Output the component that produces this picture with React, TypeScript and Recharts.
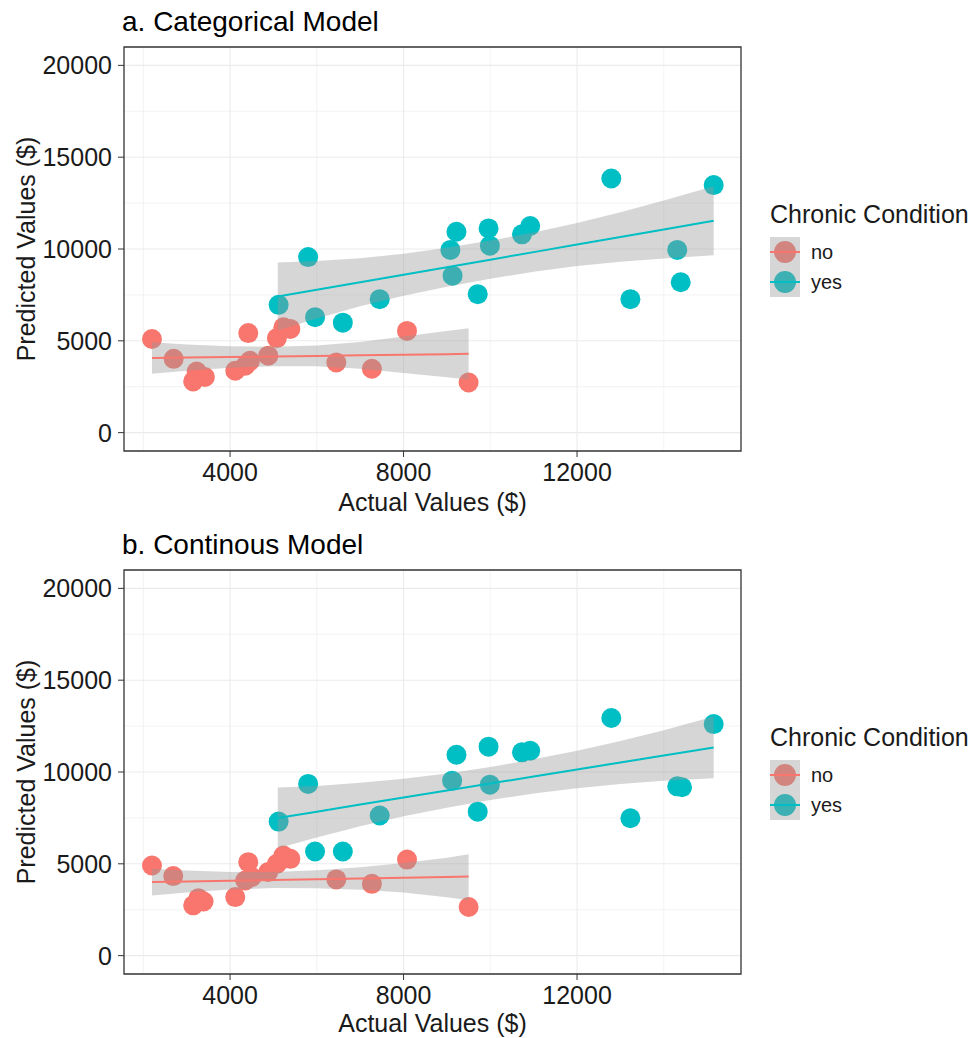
import React from 'react';
import {
  ComposedChart,
  Scatter,
  Line,
  Area,
  XAxis,
  YAxis,
  CartesianGrid,
  ReferenceArea,
  Legend,
} from 'recharts';

const FONT = '"Liberation Sans", Arial, Helvetica, sans-serif';
const RED = '#F8766D';
const TEAL = '#00BFC4';
// point colour as seen under the grey ribbon (used for the legend keys)
const RED_KEY = '#D2847F';
const TEAL_KEY = '#3DB0B3';

const groups = ['no', 'yes'];

const xTicks = [4000, 8000, 12000];
const xMinor = [2000, 6000, 10000, 14000];
const yTicks = [0, 5000, 10000, 15000, 20000];
const yMinor = [2500, 7500, 12500, 17500];

// ---- a. Categorical Model ----
const catNoX = [2200, 2700, 3150, 3230, 3420, 4120, 4350, 4460, 4420, 4880, 5080, 5230, 5390, 6450, 7270, 8080, 9500];
const catNoY = [5100, 4020, 2790, 3330, 3030, 3370, 3640, 3910, 5420, 4190, 5150, 5740, 5650, 3820, 3480, 5540, 2730];
const catYesX = [5120, 5800, 5960, 6600, 7450, 9080, 9130, 9220, 9710, 9960, 9990, 10730, 10920, 12790, 13230, 14310, 14390, 15150];
const catYesY = [6960, 9560, 6290, 5990, 7270, 9950, 8550, 10940, 7540, 11120, 10180, 10800, 11250, 13840, 7270, 9950, 8190, 13480];

const catNoFitX = [2200, 3000, 4000, 5000, 6000, 7000, 8000, 9000, 9500];
const catNoFit = [4060, 4085, 4117, 4148, 4180, 4211, 4243, 4274, 4290];
const catNoUpper = [4920, 4800, 4700, 4680, 4740, 4940, 5240, 5530, 5690];
const catNoLower = [3200, 3370, 3530, 3620, 3620, 3480, 3250, 3020, 2890];

const catYesFitX = [5100, 6000, 7000, 8000, 9000, 10000, 11000, 12000, 13000, 14000, 15150];
const catYesFit = [7410, 7780, 8190, 8600, 9010, 9420, 9830, 10240, 10650, 11060, 11540];
const catYesUpper = [9260, 9340, 9500, 9740, 10070, 10460, 10900, 11410, 12000, 12640, 13420];
const catYesLower = [5560, 6220, 6880, 7460, 7950, 8380, 8760, 9070, 9300, 9480, 9660];

// ---- b. Continous Model ----
const conNoX = [2200, 2690, 3150, 3270, 3390, 4120, 4350, 4500, 4420, 4880, 5080, 5230, 5390, 6450, 7270, 8080, 9500];
const conNoY = [4910, 4330, 2740, 3130, 2950, 3190, 4090, 4280, 5090, 4550, 5000, 5450, 5270, 4150, 3910, 5230, 2650];
const conYesX = [5120, 5800, 5960, 6600, 7450, 9120, 9220, 9710, 9960, 9990, 10730, 10920, 12790, 13230, 14310, 14420, 15150];
const conYesY = [7300, 9350, 5670, 5670, 7630, 9530, 10940, 7840, 11380, 9310, 11070, 11160, 12940, 7480, 9220, 9170, 12610];

const conNoFitX = [2200, 3000, 4000, 5000, 6000, 7000, 8000, 9000, 9500];
const conNoFit = [4005, 4040, 4080, 4120, 4160, 4200, 4240, 4280, 4310];
const conNoUpper = [4730, 4640, 4560, 4560, 4650, 4810, 5040, 5330, 5520];
const conNoLower = [3280, 3440, 3600, 3680, 3670, 3590, 3440, 3180, 3020];

const conYesFitX = [5100, 6000, 7000, 8000, 9000, 10000, 11000, 12000, 13000, 14000, 15150];
const conYesFit = [7500, 7840, 8230, 8610, 8990, 9370, 9760, 10140, 10520, 10900, 11340];
const conYesUpper = [9150, 9240, 9410, 9630, 9920, 10270, 10690, 11160, 11690, 12280, 13020];
const conYesLower = [5850, 6440, 7050, 7590, 8060, 8470, 8830, 9120, 9350, 9520, 9660];

const X_DOMAIN = [1555, 15780];
const Y_DOMAIN = [-1000, 21000];

const toPoints = (xs: number[], ys: number[]) => xs.map((x, i) => ({ x, y: ys[i] }));
const toSmooth = (xs: number[], fit: number[], lo: number[], hi: number[]) =>
  xs.map((x, i) => ({ x, fit: fit[i], band: [lo[i], hi[i]] }));

const dot = (color: string) => (p: any) => <circle cx={p.cx} cy={p.cy} r={10} fill={color} />;

const LegendBox = () => (
  <div style={{ fontFamily: FONT, color: '#1a1a1a' }}>
    <div style={{ fontSize: 25, lineHeight: '30px', whiteSpace: 'nowrap' }}>Chronic Condition</div>
    <div style={{ marginTop: 8 }}>
      {groups.map((g, i) => (
        <div key={g} style={{ display: 'flex', alignItems: 'center', height: 30 }}>
          <svg width={30} height={30}>
            <rect width={30} height={30} fill="#D6D6D6" />
            <circle cx={15} cy={15} r={11} fill={i === 0 ? RED_KEY : TEAL_KEY} />
            <line x1={0} x2={30} y1={15} y2={15} stroke={i === 0 ? RED : TEAL} strokeWidth={2} />
          </svg>
          <span style={{ marginLeft: 11, fontSize: 20 }}>{g}</span>
        </div>
      ))}
    </div>
  </div>
);

interface PanelProps {
  title: string;
  top: number;
  height: number;
  bottomMargin: number;
  labelOffset: number;
  noPts: { x: number; y: number }[];
  yesPts: { x: number; y: number }[];
  noSmooth: any[];
  yesSmooth: any[];
}

const Panel: React.FC<PanelProps> = ({ title, top, height, bottomMargin, labelOffset, noPts, yesPts, noSmooth, yesSmooth }) => {
  const tick = { fill: '#1a1a1a', fontSize: 25, fontFamily: FONT };
  return (
    <div style={{ position: 'absolute', left: 0, top, width: 970, height }}>
      <div
        style={{
          position: 'absolute',
          left: 122,
          top: 8,
          fontFamily: FONT,
          fontSize: 28,
          lineHeight: '28px',
          color: '#000',
          whiteSpace: 'nowrap',
        }}
      >
        {title}
      </div>
      <ComposedChart
        width={970}
        height={height}
        margin={{ top: 47, right: 229, left: 8, bottom: bottomMargin }}
        style={{ position: 'absolute', left: 0, top: 0 }}
      >
        <CartesianGrid
          horizontalValues={yMinor}
          verticalValues={xMinor}
          stroke="#EEEEEE"
          strokeWidth={0.7}
          fill="none"
        />
        <CartesianGrid horizontalValues={yTicks} verticalValues={xTicks} stroke="#EBEBEB" strokeWidth={1.1} fill="none" />
        <XAxis
          type="number"
          dataKey="x"
          domain={X_DOMAIN}
          allowDataOverflow
          ticks={xTicks}
          tick={tick}
          tickSize={6}
          tickMargin={6}
          tickLine={{ stroke: '#333333' }}
          axisLine={false}
          height={60}
          label={{
            value: 'Actual Values ($)',
            position: 'insideBottom',
            offset: labelOffset,
            style: { fill: '#1a1a1a', fontSize: 25, fontFamily: FONT },
          }}
        />
        <YAxis
          type="number"
          dataKey="y"
          domain={Y_DOMAIN}
          allowDataOverflow
          ticks={yTicks}
          tick={tick}
          tickSize={6}
          tickMargin={6}
          tickLine={{ stroke: '#333333' }}
          axisLine={false}
          width={116}
          label={{
            value: 'Predicted Values ($)',
            angle: -90,
            position: 'insideLeft',
            offset: 18,
            style: { fill: '#1a1a1a', fontSize: 25, fontFamily: FONT, textAnchor: 'middle' },
          }}
        />
        <Scatter name="no" data={noPts} shape={dot(RED)} isAnimationActive={false} />
        <Scatter name="yes" data={yesPts} shape={dot(TEAL)} isAnimationActive={false} />
        <Area
          data={noSmooth}
          dataKey="band"
          type="linear"
          stroke="none"
          fill="#999999"
          fillOpacity={0.4}
          isAnimationActive={false}
          zIndex={700}
          legendType="none"
        />
        <Line
          data={noSmooth}
          dataKey="fit"
          type="linear"
          stroke={RED}
          strokeWidth={2}
          dot={false}
          activeDot={false}
          isAnimationActive={false}
          zIndex={800}
          legendType="none"
        />
        <Area
          data={yesSmooth}
          dataKey="band"
          type="linear"
          stroke="none"
          fill="#999999"
          fillOpacity={0.4}
          isAnimationActive={false}
          zIndex={700}
          legendType="none"
        />
        <Line
          data={yesSmooth}
          dataKey="fit"
          type="linear"
          stroke={TEAL}
          strokeWidth={2}
          dot={false}
          activeDot={false}
          isAnimationActive={false}
          zIndex={800}
          legendType="none"
        />
        <ReferenceArea
          x1={X_DOMAIN[0]}
          x2={X_DOMAIN[1]}
          y1={Y_DOMAIN[0]}
          y2={Y_DOMAIN[1]}
          fill="none"
          stroke="#333333"
          strokeWidth={1.3}
          ifOverflow="visible"
          zIndex={900}
        />
        <Legend
          layout="vertical"
          align="center"
          verticalAlign="middle"
          content={() => <LegendBox />}
          wrapperStyle={{ left: 770, top: 199, width: 200 }}
        />
      </ComposedChart>
    </div>
  );
};

export default function App() {
  return (
    <div style={{ position: 'absolute', left: 0, top: 0, width: 970, height: 1038, background: '#fff' }}>
      <Panel
        title="a. Categorical Model"
        top={0}
        height={524}
        bottomMargin={13}
        labelOffset={0}
        noPts={toPoints(catNoX, catNoY)}
        yesPts={toPoints(catYesX, catYesY)}
        noSmooth={toSmooth(catNoFitX, catNoFit, catNoLower, catNoUpper)}
        yesSmooth={toSmooth(catYesFitX, catYesFit, catYesLower, catYesUpper)}
      />
      <Panel
        title="b. Continous Model"
        top={523}
        height={515}
        bottomMargin={4}
        labelOffset={2}
        noPts={toPoints(conNoX, conNoY)}
        yesPts={toPoints(conYesX, conYesY)}
        noSmooth={toSmooth(conNoFitX, conNoFit, conNoLower, conNoUpper)}
        yesSmooth={toSmooth(conYesFitX, conYesFit, conYesLower, conYesUpper)}
      />
    </div>
  );
}
